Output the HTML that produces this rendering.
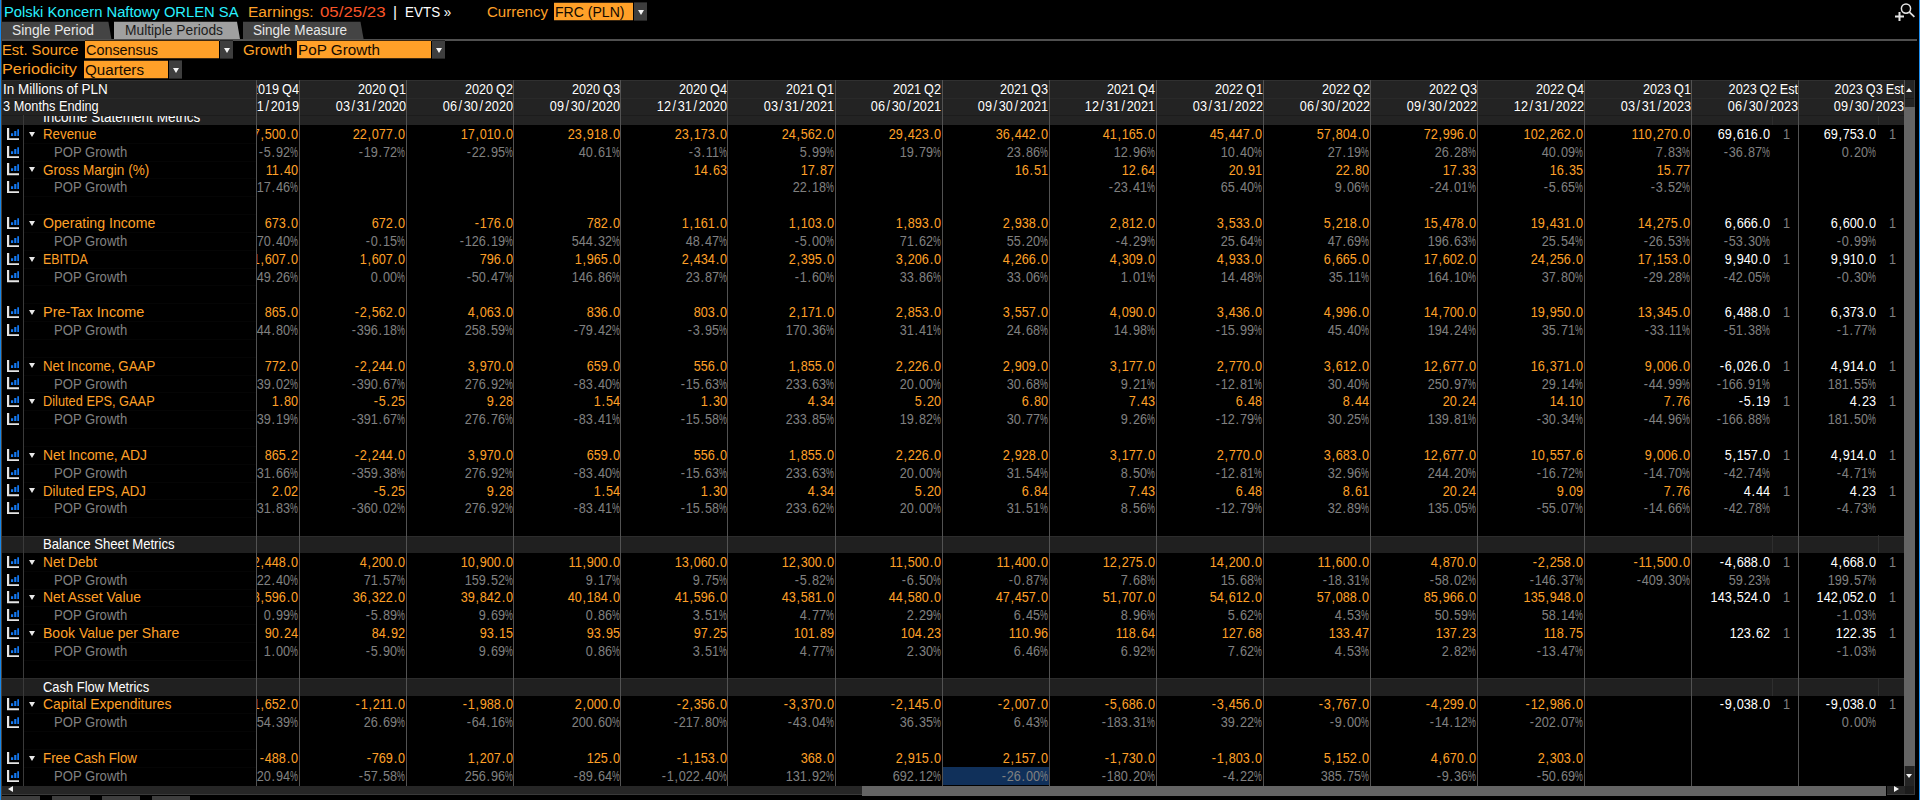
<!DOCTYPE html>
<html><head><meta charset="utf-8"><title>EEO</title>
<style>
*{box-sizing:border-box}
html,body{margin:0;padding:0;background:#000;width:1920px;height:800px;overflow:hidden}
body{font-family:"Liberation Sans",sans-serif;position:relative;color:#fff}
.a{position:absolute;white-space:pre;transform-origin:0 50%}
.t{font-size:15.5px;line-height:20px;height:20px}
.tb{font-size:14.3px;line-height:18px;height:18px;text-shadow:0 -1px 0 rgba(0,0,0,.45)}
.tab{font-size:14px;line-height:18px;height:18px}
.o{color:#ffa028}.c{color:#28f0ff}.rd{color:#fa5528}.w{color:#fff}.g{color:#808080}
.dd{background:#ffa028;border-top:1px solid #3c2810;border-bottom:1px solid #3c2810;color:#140a00;height:19px;line-height:17px;font-size:15.5px;padding-left:1px;overflow:hidden}
.dd span{display:inline-block;transform-origin:0 50%}
.ab{background:#3e3e3e;border-top:1px solid #262626;border-bottom:1px solid #262626;height:19px;width:13px}
.ab i{position:absolute;left:3.6px;top:6.6px;width:0;height:0;border-left:3.3px solid transparent;border-right:3.3px solid transparent;border-top:5.6px solid #f4f4f4}
.r{font-size:14.3px;line-height:18px;height:18px}
.v,.h1,.h2{text-align:right;width:100px;transform:scaleX(0.8865);transform-origin:100% 50%}
.v i{font-style:normal;letter-spacing:.9px;margin-left:.8px}
.h1{word-spacing:-.6px}
.h2 i{font-style:normal;letter-spacing:1.9px;margin-left:1.9px}
.vl{background:#525252;width:1px}
.pc{display:inline-block;width:9px;transform:scaleX(.7);transform-origin:0 50%}
.sec{background:#202020;left:2px;width:1903px;height:17px;border-top:1px solid #2c2c2c}
#grid{position:absolute;left:257px;top:80px;width:1648px;height:706px;overflow:hidden}
.ic{position:absolute;left:7px;width:12.2px;height:12.2px}
.tri{width:0;height:0;border-left:3.3px solid transparent;border-right:3.3px solid transparent;border-top:5.6px solid #e8e8e8}
</style></head><body>
<div class="a" style="left:0;top:0;width:1px;height:800px;background:#1487eb"></div><div class="a" style="left:1px;top:0;width:1px;height:800px;background:#4a423c"></div>
<div class="a" style="left:1919px;top:0;width:1px;height:800px;background:#2090f0"></div>
<div class="a t c" style="left:3.5px;top:1.6px;transform:scale(0.9518,1);">Polski Koncern Naftowy ORLEN SA</div>
<div class="a t o" style="left:247.5px;top:1.6px;transform:scale(1.0003,1);">Earnings:</div>
<div class="a t rd" style="left:319.5px;top:1.6px;transform:scale(1.0873,1);">05/25/23</div>
<div class="a t w" style="left:393px;top:1.6px;">|</div>
<div class="a t w" style="left:405px;top:1.6px;transform:scale(0.8669,1);">EVTS »</div>
<div class="a t o" style="left:487px;top:1.6px;transform:scale(0.9701,1);">Currency</div>
<div class="a dd" style="left:554px;top:2px;width:79px"><span style="transform:scale(0.9069,1)">FRC (PLN)</span></div><div class="a ab" style="left:634px;top:2px"><i></i></div>
<svg class="a" style="left:1892px;top:0" width="26" height="24" viewBox="0 0 26 24"><circle cx="14" cy="8.6" r="4.6" fill="none" stroke="#e4e4e4" stroke-width="1.5"/><path d="M17.4 12.2 L22.4 16.8" stroke="#e4e4e4" stroke-width="1.7" fill="none"/><path d="M3 16.5 H12 M7.5 12 V21" stroke="#e4e4e4" stroke-width="2" fill="none"/></svg>
<svg class="a" style="left:0;top:21px" width="400" height="19" viewBox="0 0 400 19"><path d="M2 0.7 L108.4 0.7 L111.4 18 L2 18 Z" fill="#444"/><path d="M114 0.7 L237 0.7 L240 18 L114 18 Z" fill="#a0a0a0"/><path d="M243 0.7 L360.5 0.7 L363.6 18 L243 18 Z" fill="#444"/></svg>
<div class="a tab" style="left:12px;top:21.4px;transform:scaleX(0.9847);color:#e8e8e8;">Single Period</div>
<div class="a tab" style="left:124.5px;top:21.4px;transform:scaleX(0.9839);color:#1c1c1c;">Multiple Periods</div>
<div class="a tab" style="left:253px;top:21.4px;transform:scaleX(0.9663);color:#e8e8e8;">Single Measure</div>
<div class="a" style="left:2px;top:39px;width:1915px;height:2px;background:#505050"></div>
<div class="a t o" style="left:2.3px;top:39.5px;transform:scale(0.9548,1);">Est. Source</div>
<div class="a dd" style="left:85px;top:40px;width:134px"><span style="transform:scale(0.9285,1)">Consensus</span></div><div class="a ab" style="left:220px;top:40px"><i></i></div>
<div class="a t o" style="left:243.3px;top:39.5px;transform:scale(0.9808,1);">Growth</div>
<div class="a dd" style="left:297px;top:40px;width:134px"><span style="transform:scale(0.9846,1)">PoP Growth</span></div><div class="a ab" style="left:432px;top:40px"><i></i></div>
<div class="a t o" style="left:2.3px;top:59.2px;transform:scale(1.0490,1);">Periodicity</div>
<div class="a dd" style="left:84px;top:60px;width:84px"><span style="transform:scale(0.9785,1)">Quarters</span></div><div class="a ab" style="left:169px;top:60px"><i></i></div>
<div class="a" style="left:2px;top:80px;width:1903px;height:45px;background:#232323"></div>
<div class="a" style="left:2px;top:80px;width:1903px;height:1px;background:#303030"></div><div class="a" style="left:2px;top:98px;width:1903px;height:1px;background:#292929"></div><div class="a" style="left:2px;top:115px;width:1903px;height:1px;background:#1c1c1c"></div>
<div class="a tb w" style="left:3px;top:80.3px;transform:scaleX(0.9419);">In Millions of PLN</div>
<div class="a tb w" style="left:3px;top:97.3px;transform:scaleX(0.8917);">3 Months Ending</div>
<div class="a" style="left:24px;top:115.5px;width:233px;height:9.5px;overflow:hidden"><div class="a r w" style="left:18.5px;top:-8px;transform:scaleX(0.9470)">Income Statement Metrics</div></div>
<div class="a sec" style="top:536px;height:17px"></div><div class="a" style="left:1772px;top:535.09px;width:1px;height:17.83px;background:#2e2e2e"></div><div class="a" style="left:1878px;top:535.09px;width:1px;height:17.83px;background:#2e2e2e"></div>
<div class="a sec" style="top:678px;height:18px"></div><div class="a" style="left:1772px;top:677.73px;width:1px;height:17.83px;background:#2e2e2e"></div><div class="a" style="left:1878px;top:677.73px;width:1px;height:17.83px;background:#2e2e2e"></div>
<div class="a" style="left:1772px;top:116px;width:1px;height:9px;background:#2e2e2e"></div><div class="a" style="left:1878px;top:116px;width:1px;height:9px;background:#2e2e2e"></div><svg class="ic" style="top:127.8px" viewBox="0 0 12.2 12.2"><path d="M0 0H2.2V10.2H12.2V12.2H0Z" fill="#e6e6e6"/><path d="M4 5.3H6.2V7.9H4ZM7.2 3.1H9.4V7.9H7.2ZM10.3 1.2H12.2V7.9H10.3Z" fill="#1478f0"/></svg>
<div class="a tri" style="left:28.9px;top:131.7px"></div>
<div class="a r o" style="left:42.7px;top:125px;transform:scaleX(0.9311);">Revenue</div>
<svg class="ic" style="top:145.63px" viewBox="0 0 12.2 12.2"><path d="M0 0H2.2V10.2H12.2V12.2H0Z" fill="#e6e6e6"/><path d="M4 5.3H6.2V7.9H4ZM7.2 3.1H9.4V7.9H7.2ZM10.3 1.2H12.2V7.9H10.3Z" fill="#1478f0"/></svg>
<div class="a r g" style="left:54.3px;top:143px;transform:scaleX(0.9162);">POP Growth</div>
<svg class="ic" style="top:163.46px" viewBox="0 0 12.2 12.2"><path d="M0 0H2.2V10.2H12.2V12.2H0Z" fill="#e6e6e6"/><path d="M4 5.3H6.2V7.9H4ZM7.2 3.1H9.4V7.9H7.2ZM10.3 1.2H12.2V7.9H10.3Z" fill="#1478f0"/></svg>
<div class="a tri" style="left:28.9px;top:167.36px"></div>
<div class="a r o" style="left:42.7px;top:161px;transform:scaleX(0.9488);">Gross Margin (%)</div>
<svg class="ic" style="top:181.29px" viewBox="0 0 12.2 12.2"><path d="M0 0H2.2V10.2H12.2V12.2H0Z" fill="#e6e6e6"/><path d="M4 5.3H6.2V7.9H4ZM7.2 3.1H9.4V7.9H7.2ZM10.3 1.2H12.2V7.9H10.3Z" fill="#1478f0"/></svg>
<div class="a r g" style="left:54.3px;top:178px;transform:scaleX(0.9162);">POP Growth</div>
<svg class="ic" style="top:216.95px" viewBox="0 0 12.2 12.2"><path d="M0 0H2.2V10.2H12.2V12.2H0Z" fill="#e6e6e6"/><path d="M4 5.3H6.2V7.9H4ZM7.2 3.1H9.4V7.9H7.2ZM10.3 1.2H12.2V7.9H10.3Z" fill="#1478f0"/></svg>
<div class="a tri" style="left:28.9px;top:220.85px"></div>
<div class="a r o" style="left:42.7px;top:214px;transform:scaleX(0.9880);">Operating Income</div>
<svg class="ic" style="top:234.78px" viewBox="0 0 12.2 12.2"><path d="M0 0H2.2V10.2H12.2V12.2H0Z" fill="#e6e6e6"/><path d="M4 5.3H6.2V7.9H4ZM7.2 3.1H9.4V7.9H7.2ZM10.3 1.2H12.2V7.9H10.3Z" fill="#1478f0"/></svg>
<div class="a r g" style="left:54.3px;top:232px;transform:scaleX(0.9162);">POP Growth</div>
<svg class="ic" style="top:252.61px" viewBox="0 0 12.2 12.2"><path d="M0 0H2.2V10.2H12.2V12.2H0Z" fill="#e6e6e6"/><path d="M4 5.3H6.2V7.9H4ZM7.2 3.1H9.4V7.9H7.2ZM10.3 1.2H12.2V7.9H10.3Z" fill="#1478f0"/></svg>
<div class="a tri" style="left:28.9px;top:256.51px"></div>
<div class="a r o" style="left:42.7px;top:250px;transform:scaleX(0.8655);">EBITDA</div>
<svg class="ic" style="top:270.44px" viewBox="0 0 12.2 12.2"><path d="M0 0H2.2V10.2H12.2V12.2H0Z" fill="#e6e6e6"/><path d="M4 5.3H6.2V7.9H4ZM7.2 3.1H9.4V7.9H7.2ZM10.3 1.2H12.2V7.9H10.3Z" fill="#1478f0"/></svg>
<div class="a r g" style="left:54.3px;top:268px;transform:scaleX(0.9162);">POP Growth</div>
<svg class="ic" style="top:306.1px" viewBox="0 0 12.2 12.2"><path d="M0 0H2.2V10.2H12.2V12.2H0Z" fill="#e6e6e6"/><path d="M4 5.3H6.2V7.9H4ZM7.2 3.1H9.4V7.9H7.2ZM10.3 1.2H12.2V7.9H10.3Z" fill="#1478f0"/></svg>
<div class="a tri" style="left:28.9px;top:310px"></div>
<div class="a r o" style="left:42.7px;top:303px;transform:scaleX(1.0116);">Pre-Tax Income</div>
<svg class="ic" style="top:323.93px" viewBox="0 0 12.2 12.2"><path d="M0 0H2.2V10.2H12.2V12.2H0Z" fill="#e6e6e6"/><path d="M4 5.3H6.2V7.9H4ZM7.2 3.1H9.4V7.9H7.2ZM10.3 1.2H12.2V7.9H10.3Z" fill="#1478f0"/></svg>
<div class="a r g" style="left:54.3px;top:321px;transform:scaleX(0.9162);">POP Growth</div>
<svg class="ic" style="top:359.59px" viewBox="0 0 12.2 12.2"><path d="M0 0H2.2V10.2H12.2V12.2H0Z" fill="#e6e6e6"/><path d="M4 5.3H6.2V7.9H4ZM7.2 3.1H9.4V7.9H7.2ZM10.3 1.2H12.2V7.9H10.3Z" fill="#1478f0"/></svg>
<div class="a tri" style="left:28.9px;top:363.49px"></div>
<div class="a r o" style="left:42.7px;top:357px;transform:scaleX(0.9296);">Net Income, GAAP</div>
<svg class="ic" style="top:377.42px" viewBox="0 0 12.2 12.2"><path d="M0 0H2.2V10.2H12.2V12.2H0Z" fill="#e6e6e6"/><path d="M4 5.3H6.2V7.9H4ZM7.2 3.1H9.4V7.9H7.2ZM10.3 1.2H12.2V7.9H10.3Z" fill="#1478f0"/></svg>
<div class="a r g" style="left:54.3px;top:375px;transform:scaleX(0.9162);">POP Growth</div>
<svg class="ic" style="top:395.25px" viewBox="0 0 12.2 12.2"><path d="M0 0H2.2V10.2H12.2V12.2H0Z" fill="#e6e6e6"/><path d="M4 5.3H6.2V7.9H4ZM7.2 3.1H9.4V7.9H7.2ZM10.3 1.2H12.2V7.9H10.3Z" fill="#1478f0"/></svg>
<div class="a tri" style="left:28.9px;top:399.15px"></div>
<div class="a r o" style="left:42.7px;top:392px;transform:scaleX(0.8951);">Diluted EPS, GAAP</div>
<svg class="ic" style="top:413.08px" viewBox="0 0 12.2 12.2"><path d="M0 0H2.2V10.2H12.2V12.2H0Z" fill="#e6e6e6"/><path d="M4 5.3H6.2V7.9H4ZM7.2 3.1H9.4V7.9H7.2ZM10.3 1.2H12.2V7.9H10.3Z" fill="#1478f0"/></svg>
<div class="a r g" style="left:54.3px;top:410px;transform:scaleX(0.9162);">POP Growth</div>
<svg class="ic" style="top:448.74px" viewBox="0 0 12.2 12.2"><path d="M0 0H2.2V10.2H12.2V12.2H0Z" fill="#e6e6e6"/><path d="M4 5.3H6.2V7.9H4ZM7.2 3.1H9.4V7.9H7.2ZM10.3 1.2H12.2V7.9H10.3Z" fill="#1478f0"/></svg>
<div class="a tri" style="left:28.9px;top:452.64px"></div>
<div class="a r o" style="left:42.7px;top:446px;transform:scaleX(0.9693);">Net Income, ADJ</div>
<svg class="ic" style="top:466.57px" viewBox="0 0 12.2 12.2"><path d="M0 0H2.2V10.2H12.2V12.2H0Z" fill="#e6e6e6"/><path d="M4 5.3H6.2V7.9H4ZM7.2 3.1H9.4V7.9H7.2ZM10.3 1.2H12.2V7.9H10.3Z" fill="#1478f0"/></svg>
<div class="a r g" style="left:54.3px;top:464px;transform:scaleX(0.9162);">POP Growth</div>
<svg class="ic" style="top:484.4px" viewBox="0 0 12.2 12.2"><path d="M0 0H2.2V10.2H12.2V12.2H0Z" fill="#e6e6e6"/><path d="M4 5.3H6.2V7.9H4ZM7.2 3.1H9.4V7.9H7.2ZM10.3 1.2H12.2V7.9H10.3Z" fill="#1478f0"/></svg>
<div class="a tri" style="left:28.9px;top:488.3px"></div>
<div class="a r o" style="left:42.7px;top:482px;transform:scaleX(0.9257);">Diluted EPS, ADJ</div>
<svg class="ic" style="top:502.23px" viewBox="0 0 12.2 12.2"><path d="M0 0H2.2V10.2H12.2V12.2H0Z" fill="#e6e6e6"/><path d="M4 5.3H6.2V7.9H4ZM7.2 3.1H9.4V7.9H7.2ZM10.3 1.2H12.2V7.9H10.3Z" fill="#1478f0"/></svg>
<div class="a r g" style="left:54.3px;top:499px;transform:scaleX(0.9162);">POP Growth</div>
<div class="a r w" style="left:42.7px;top:535px;transform:scaleX(0.9198);">Balance Sheet Metrics</div>
<svg class="ic" style="top:555.72px" viewBox="0 0 12.2 12.2"><path d="M0 0H2.2V10.2H12.2V12.2H0Z" fill="#e6e6e6"/><path d="M4 5.3H6.2V7.9H4ZM7.2 3.1H9.4V7.9H7.2ZM10.3 1.2H12.2V7.9H10.3Z" fill="#1478f0"/></svg>
<div class="a tri" style="left:28.9px;top:559.62px"></div>
<div class="a r o" style="left:42.7px;top:553px;transform:scaleX(0.9569);">Net Debt</div>
<svg class="ic" style="top:573.55px" viewBox="0 0 12.2 12.2"><path d="M0 0H2.2V10.2H12.2V12.2H0Z" fill="#e6e6e6"/><path d="M4 5.3H6.2V7.9H4ZM7.2 3.1H9.4V7.9H7.2ZM10.3 1.2H12.2V7.9H10.3Z" fill="#1478f0"/></svg>
<div class="a r g" style="left:54.3px;top:571px;transform:scaleX(0.9162);">POP Growth</div>
<svg class="ic" style="top:591.38px" viewBox="0 0 12.2 12.2"><path d="M0 0H2.2V10.2H12.2V12.2H0Z" fill="#e6e6e6"/><path d="M4 5.3H6.2V7.9H4ZM7.2 3.1H9.4V7.9H7.2ZM10.3 1.2H12.2V7.9H10.3Z" fill="#1478f0"/></svg>
<div class="a tri" style="left:28.9px;top:595.28px"></div>
<div class="a r o" style="left:42.7px;top:588px;transform:scaleX(0.9733);">Net Asset Value</div>
<svg class="ic" style="top:609.21px" viewBox="0 0 12.2 12.2"><path d="M0 0H2.2V10.2H12.2V12.2H0Z" fill="#e6e6e6"/><path d="M4 5.3H6.2V7.9H4ZM7.2 3.1H9.4V7.9H7.2ZM10.3 1.2H12.2V7.9H10.3Z" fill="#1478f0"/></svg>
<div class="a r g" style="left:54.3px;top:606px;transform:scaleX(0.9162);">POP Growth</div>
<svg class="ic" style="top:627.04px" viewBox="0 0 12.2 12.2"><path d="M0 0H2.2V10.2H12.2V12.2H0Z" fill="#e6e6e6"/><path d="M4 5.3H6.2V7.9H4ZM7.2 3.1H9.4V7.9H7.2ZM10.3 1.2H12.2V7.9H10.3Z" fill="#1478f0"/></svg>
<div class="a tri" style="left:28.9px;top:630.94px"></div>
<div class="a r o" style="left:42.7px;top:624px;transform:scaleX(0.9816);">Book Value per Share</div>
<svg class="ic" style="top:644.87px" viewBox="0 0 12.2 12.2"><path d="M0 0H2.2V10.2H12.2V12.2H0Z" fill="#e6e6e6"/><path d="M4 5.3H6.2V7.9H4ZM7.2 3.1H9.4V7.9H7.2ZM10.3 1.2H12.2V7.9H10.3Z" fill="#1478f0"/></svg>
<div class="a r g" style="left:54.3px;top:642px;transform:scaleX(0.9162);">POP Growth</div>
<div class="a r w" style="left:42.7px;top:678px;transform:scaleX(0.9039);">Cash Flow Metrics</div>
<svg class="ic" style="top:698.36px" viewBox="0 0 12.2 12.2"><path d="M0 0H2.2V10.2H12.2V12.2H0Z" fill="#e6e6e6"/><path d="M4 5.3H6.2V7.9H4ZM7.2 3.1H9.4V7.9H7.2ZM10.3 1.2H12.2V7.9H10.3Z" fill="#1478f0"/></svg>
<div class="a tri" style="left:28.9px;top:702.26px"></div>
<div class="a r o" style="left:42.7px;top:695px;transform:scaleX(0.9746);">Capital Expenditures</div>
<svg class="ic" style="top:716.19px" viewBox="0 0 12.2 12.2"><path d="M0 0H2.2V10.2H12.2V12.2H0Z" fill="#e6e6e6"/><path d="M4 5.3H6.2V7.9H4ZM7.2 3.1H9.4V7.9H7.2ZM10.3 1.2H12.2V7.9H10.3Z" fill="#1478f0"/></svg>
<div class="a r g" style="left:54.3px;top:713px;transform:scaleX(0.9162);">POP Growth</div>
<svg class="ic" style="top:751.85px" viewBox="0 0 12.2 12.2"><path d="M0 0H2.2V10.2H12.2V12.2H0Z" fill="#e6e6e6"/><path d="M4 5.3H6.2V7.9H4ZM7.2 3.1H9.4V7.9H7.2ZM10.3 1.2H12.2V7.9H10.3Z" fill="#1478f0"/></svg>
<div class="a tri" style="left:28.9px;top:755.75px"></div>
<div class="a r o" style="left:42.7px;top:749px;transform:scaleX(0.9314);">Free Cash Flow</div>
<svg class="ic" style="top:769.68px" viewBox="0 0 12.2 12.2"><path d="M0 0H2.2V10.2H12.2V12.2H0Z" fill="#e6e6e6"/><path d="M4 5.3H6.2V7.9H4ZM7.2 3.1H9.4V7.9H7.2ZM10.3 1.2H12.2V7.9H10.3Z" fill="#1478f0"/></svg>
<div class="a r g" style="left:54.3px;top:767px;transform:scaleX(0.9162);">POP Growth</div>
<div class="a" style="left:24px;top:143px;width:232px;height:1px;background:#050505"></div><div class="a" style="left:24px;top:161px;width:232px;height:1px;background:#050505"></div><div class="a" style="left:24px;top:178px;width:232px;height:1px;background:#050505"></div><div class="a" style="left:24px;top:196px;width:232px;height:1px;background:#050505"></div><div class="a" style="left:24px;top:214px;width:232px;height:1px;background:#050505"></div><div class="a" style="left:24px;top:232px;width:232px;height:1px;background:#050505"></div><div class="a" style="left:24px;top:250px;width:232px;height:1px;background:#050505"></div><div class="a" style="left:24px;top:268px;width:232px;height:1px;background:#050505"></div><div class="a" style="left:24px;top:285px;width:232px;height:1px;background:#050505"></div><div class="a" style="left:24px;top:303px;width:232px;height:1px;background:#050505"></div><div class="a" style="left:24px;top:321px;width:232px;height:1px;background:#050505"></div><div class="a" style="left:24px;top:339px;width:232px;height:1px;background:#050505"></div><div class="a" style="left:24px;top:357px;width:232px;height:1px;background:#050505"></div><div class="a" style="left:24px;top:375px;width:232px;height:1px;background:#050505"></div><div class="a" style="left:24px;top:392px;width:232px;height:1px;background:#050505"></div><div class="a" style="left:24px;top:410px;width:232px;height:1px;background:#050505"></div><div class="a" style="left:24px;top:428px;width:232px;height:1px;background:#050505"></div><div class="a" style="left:24px;top:446px;width:232px;height:1px;background:#050505"></div><div class="a" style="left:24px;top:464px;width:232px;height:1px;background:#050505"></div><div class="a" style="left:24px;top:482px;width:232px;height:1px;background:#050505"></div><div class="a" style="left:24px;top:499px;width:232px;height:1px;background:#050505"></div><div class="a" style="left:24px;top:517px;width:232px;height:1px;background:#050505"></div><div class="a" style="left:24px;top:571px;width:232px;height:1px;background:#050505"></div><div class="a" style="left:24px;top:589px;width:232px;height:1px;background:#050505"></div><div class="a" style="left:24px;top:606px;width:232px;height:1px;background:#050505"></div><div class="a" style="left:24px;top:624px;width:232px;height:1px;background:#050505"></div><div class="a" style="left:24px;top:642px;width:232px;height:1px;background:#050505"></div><div class="a" style="left:24px;top:660px;width:232px;height:1px;background:#050505"></div><div class="a" style="left:24px;top:713px;width:232px;height:1px;background:#050505"></div><div class="a" style="left:24px;top:731px;width:232px;height:1px;background:#050505"></div><div class="a" style="left:24px;top:749px;width:232px;height:1px;background:#050505"></div><div class="a" style="left:24px;top:767px;width:232px;height:1px;background:#050505"></div>
<div class="a vl" style="left:23px;top:115px;height:671px;background:#3a3a3a"></div>
<div id="grid">
<div class="a tb w h1" style="left:-58.1px;top:0.3px">2019 Q4</div><div class="a tb w h2" style="left:-58.1px;top:17.3px">12<i>/</i>31<i>/</i>2019</div>
<div class="a r o v" style="left:-58.6px;top:45px">27<i>,</i>500<i>.</i>0</div><div class="a r g v" style="left:-58.6px;top:63px"><i>-</i>5<i>.</i>92<span class="pc">%</span></div><div class="a r o v" style="left:-58.6px;top:81px">11<i>.</i>40</div><div class="a r g v" style="left:-58.6px;top:98px"><i>-</i>17<i>.</i>46<span class="pc">%</span></div><div class="a r o v" style="left:-58.6px;top:134px">673<i>.</i>0</div><div class="a r g v" style="left:-58.6px;top:152px"><i>-</i>70<i>.</i>40<span class="pc">%</span></div><div class="a r o v" style="left:-58.6px;top:170px">1<i>,</i>607<i>.</i>0</div><div class="a r g v" style="left:-58.6px;top:188px"><i>-</i>49<i>.</i>26<span class="pc">%</span></div><div class="a r o v" style="left:-58.6px;top:223px">865<i>.</i>0</div><div class="a r g v" style="left:-58.6px;top:241px"><i>-</i>44<i>.</i>80<span class="pc">%</span></div><div class="a r o v" style="left:-58.6px;top:277px">772<i>.</i>0</div><div class="a r g v" style="left:-58.6px;top:295px"><i>-</i>39<i>.</i>02<span class="pc">%</span></div><div class="a r o v" style="left:-58.6px;top:312px">1<i>.</i>80</div><div class="a r g v" style="left:-58.6px;top:330px"><i>-</i>39<i>.</i>19<span class="pc">%</span></div><div class="a r o v" style="left:-58.6px;top:366px">865<i>.</i>2</div><div class="a r g v" style="left:-58.6px;top:384px"><i>-</i>31<i>.</i>66<span class="pc">%</span></div><div class="a r o v" style="left:-58.6px;top:402px">2<i>.</i>02</div><div class="a r g v" style="left:-58.6px;top:419px"><i>-</i>31<i>.</i>83<span class="pc">%</span></div><div class="a r o v" style="left:-58.6px;top:473px">2<i>,</i>448<i>.</i>0</div><div class="a r g v" style="left:-58.6px;top:491px"><i>-</i>22<i>.</i>40<span class="pc">%</span></div><div class="a r o v" style="left:-58.6px;top:508px">38<i>,</i>596<i>.</i>0</div><div class="a r g v" style="left:-58.6px;top:526px">0<i>.</i>99<span class="pc">%</span></div><div class="a r o v" style="left:-58.6px;top:544px">90<i>.</i>24</div><div class="a r g v" style="left:-58.6px;top:562px">1<i>.</i>00<span class="pc">%</span></div><div class="a r o v" style="left:-58.6px;top:615px"><i>-</i>1<i>,</i>652<i>.</i>0</div><div class="a r g v" style="left:-58.6px;top:633px"><i>-</i>54<i>.</i>39<span class="pc">%</span></div><div class="a r o v" style="left:-58.6px;top:669px"><i>-</i>488<i>.</i>0</div><div class="a r g v" style="left:-58.6px;top:687px"><i>-</i>20<i>.</i>94<span class="pc">%</span></div>
<div class="a tb w h1" style="left:48.97px;top:0.3px">2020 Q1</div><div class="a tb w h2" style="left:48.97px;top:17.3px">03<i>/</i>31<i>/</i>2020</div>
<div class="a r o v" style="left:48.47px;top:45px">22<i>,</i>077<i>.</i>0</div><div class="a r g v" style="left:48.47px;top:63px"><i>-</i>19<i>.</i>72<span class="pc">%</span></div><div class="a r o v" style="left:48.47px;top:134px">672<i>.</i>0</div><div class="a r g v" style="left:48.47px;top:152px"><i>-</i>0<i>.</i>15<span class="pc">%</span></div><div class="a r o v" style="left:48.47px;top:170px">1<i>,</i>607<i>.</i>0</div><div class="a r g v" style="left:48.47px;top:188px">0<i>.</i>00<span class="pc">%</span></div><div class="a r o v" style="left:48.47px;top:223px"><i>-</i>2<i>,</i>562<i>.</i>0</div><div class="a r g v" style="left:48.47px;top:241px"><i>-</i>396<i>.</i>18<span class="pc">%</span></div><div class="a r o v" style="left:48.47px;top:277px"><i>-</i>2<i>,</i>244<i>.</i>0</div><div class="a r g v" style="left:48.47px;top:295px"><i>-</i>390<i>.</i>67<span class="pc">%</span></div><div class="a r o v" style="left:48.47px;top:312px"><i>-</i>5<i>.</i>25</div><div class="a r g v" style="left:48.47px;top:330px"><i>-</i>391<i>.</i>67<span class="pc">%</span></div><div class="a r o v" style="left:48.47px;top:366px"><i>-</i>2<i>,</i>244<i>.</i>0</div><div class="a r g v" style="left:48.47px;top:384px"><i>-</i>359<i>.</i>38<span class="pc">%</span></div><div class="a r o v" style="left:48.47px;top:402px"><i>-</i>5<i>.</i>25</div><div class="a r g v" style="left:48.47px;top:419px"><i>-</i>360<i>.</i>02<span class="pc">%</span></div><div class="a r o v" style="left:48.47px;top:473px">4<i>,</i>200<i>.</i>0</div><div class="a r g v" style="left:48.47px;top:491px">71<i>.</i>57<span class="pc">%</span></div><div class="a r o v" style="left:48.47px;top:508px">36<i>,</i>322<i>.</i>0</div><div class="a r g v" style="left:48.47px;top:526px"><i>-</i>5<i>.</i>89<span class="pc">%</span></div><div class="a r o v" style="left:48.47px;top:544px">84<i>.</i>92</div><div class="a r g v" style="left:48.47px;top:562px"><i>-</i>5<i>.</i>90<span class="pc">%</span></div><div class="a r o v" style="left:48.47px;top:615px"><i>-</i>1<i>,</i>211<i>.</i>0</div><div class="a r g v" style="left:48.47px;top:633px">26<i>.</i>69<span class="pc">%</span></div><div class="a r o v" style="left:48.47px;top:669px"><i>-</i>769<i>.</i>0</div><div class="a r g v" style="left:48.47px;top:687px"><i>-</i>57<i>.</i>58<span class="pc">%</span></div>
<div class="a tb w h1" style="left:156.04px;top:0.3px">2020 Q2</div><div class="a tb w h2" style="left:156.04px;top:17.3px">06<i>/</i>30<i>/</i>2020</div>
<div class="a r o v" style="left:155.54px;top:45px">17<i>,</i>010<i>.</i>0</div><div class="a r g v" style="left:155.54px;top:63px"><i>-</i>22<i>.</i>95<span class="pc">%</span></div><div class="a r o v" style="left:155.54px;top:134px"><i>-</i>176<i>.</i>0</div><div class="a r g v" style="left:155.54px;top:152px"><i>-</i>126<i>.</i>19<span class="pc">%</span></div><div class="a r o v" style="left:155.54px;top:170px">796<i>.</i>0</div><div class="a r g v" style="left:155.54px;top:188px"><i>-</i>50<i>.</i>47<span class="pc">%</span></div><div class="a r o v" style="left:155.54px;top:223px">4<i>,</i>063<i>.</i>0</div><div class="a r g v" style="left:155.54px;top:241px">258<i>.</i>59<span class="pc">%</span></div><div class="a r o v" style="left:155.54px;top:277px">3<i>,</i>970<i>.</i>0</div><div class="a r g v" style="left:155.54px;top:295px">276<i>.</i>92<span class="pc">%</span></div><div class="a r o v" style="left:155.54px;top:312px">9<i>.</i>28</div><div class="a r g v" style="left:155.54px;top:330px">276<i>.</i>76<span class="pc">%</span></div><div class="a r o v" style="left:155.54px;top:366px">3<i>,</i>970<i>.</i>0</div><div class="a r g v" style="left:155.54px;top:384px">276<i>.</i>92<span class="pc">%</span></div><div class="a r o v" style="left:155.54px;top:402px">9<i>.</i>28</div><div class="a r g v" style="left:155.54px;top:419px">276<i>.</i>92<span class="pc">%</span></div><div class="a r o v" style="left:155.54px;top:473px">10<i>,</i>900<i>.</i>0</div><div class="a r g v" style="left:155.54px;top:491px">159<i>.</i>52<span class="pc">%</span></div><div class="a r o v" style="left:155.54px;top:508px">39<i>,</i>842<i>.</i>0</div><div class="a r g v" style="left:155.54px;top:526px">9<i>.</i>69<span class="pc">%</span></div><div class="a r o v" style="left:155.54px;top:544px">93<i>.</i>15</div><div class="a r g v" style="left:155.54px;top:562px">9<i>.</i>69<span class="pc">%</span></div><div class="a r o v" style="left:155.54px;top:615px"><i>-</i>1<i>,</i>988<i>.</i>0</div><div class="a r g v" style="left:155.54px;top:633px"><i>-</i>64<i>.</i>16<span class="pc">%</span></div><div class="a r o v" style="left:155.54px;top:669px">1<i>,</i>207<i>.</i>0</div><div class="a r g v" style="left:155.54px;top:687px">256<i>.</i>96<span class="pc">%</span></div>
<div class="a tb w h1" style="left:263.11px;top:0.3px">2020 Q3</div><div class="a tb w h2" style="left:263.11px;top:17.3px">09<i>/</i>30<i>/</i>2020</div>
<div class="a r o v" style="left:262.61px;top:45px">23<i>,</i>918<i>.</i>0</div><div class="a r g v" style="left:262.61px;top:63px">40<i>.</i>61<span class="pc">%</span></div><div class="a r o v" style="left:262.61px;top:134px">782<i>.</i>0</div><div class="a r g v" style="left:262.61px;top:152px">544<i>.</i>32<span class="pc">%</span></div><div class="a r o v" style="left:262.61px;top:170px">1<i>,</i>965<i>.</i>0</div><div class="a r g v" style="left:262.61px;top:188px">146<i>.</i>86<span class="pc">%</span></div><div class="a r o v" style="left:262.61px;top:223px">836<i>.</i>0</div><div class="a r g v" style="left:262.61px;top:241px"><i>-</i>79<i>.</i>42<span class="pc">%</span></div><div class="a r o v" style="left:262.61px;top:277px">659<i>.</i>0</div><div class="a r g v" style="left:262.61px;top:295px"><i>-</i>83<i>.</i>40<span class="pc">%</span></div><div class="a r o v" style="left:262.61px;top:312px">1<i>.</i>54</div><div class="a r g v" style="left:262.61px;top:330px"><i>-</i>83<i>.</i>41<span class="pc">%</span></div><div class="a r o v" style="left:262.61px;top:366px">659<i>.</i>0</div><div class="a r g v" style="left:262.61px;top:384px"><i>-</i>83<i>.</i>40<span class="pc">%</span></div><div class="a r o v" style="left:262.61px;top:402px">1<i>.</i>54</div><div class="a r g v" style="left:262.61px;top:419px"><i>-</i>83<i>.</i>41<span class="pc">%</span></div><div class="a r o v" style="left:262.61px;top:473px">11<i>,</i>900<i>.</i>0</div><div class="a r g v" style="left:262.61px;top:491px">9<i>.</i>17<span class="pc">%</span></div><div class="a r o v" style="left:262.61px;top:508px">40<i>,</i>184<i>.</i>0</div><div class="a r g v" style="left:262.61px;top:526px">0<i>.</i>86<span class="pc">%</span></div><div class="a r o v" style="left:262.61px;top:544px">93<i>.</i>95</div><div class="a r g v" style="left:262.61px;top:562px">0<i>.</i>86<span class="pc">%</span></div><div class="a r o v" style="left:262.61px;top:615px">2<i>,</i>000<i>.</i>0</div><div class="a r g v" style="left:262.61px;top:633px">200<i>.</i>60<span class="pc">%</span></div><div class="a r o v" style="left:262.61px;top:669px">125<i>.</i>0</div><div class="a r g v" style="left:262.61px;top:687px"><i>-</i>89<i>.</i>64<span class="pc">%</span></div>
<div class="a tb w h1" style="left:370.18px;top:0.3px">2020 Q4</div><div class="a tb w h2" style="left:370.18px;top:17.3px">12<i>/</i>31<i>/</i>2020</div>
<div class="a r o v" style="left:369.68px;top:45px">23<i>,</i>173<i>.</i>0</div><div class="a r g v" style="left:369.68px;top:63px"><i>-</i>3<i>.</i>11<span class="pc">%</span></div><div class="a r o v" style="left:369.68px;top:81px">14<i>.</i>63</div><div class="a r o v" style="left:369.68px;top:134px">1<i>,</i>161<i>.</i>0</div><div class="a r g v" style="left:369.68px;top:152px">48<i>.</i>47<span class="pc">%</span></div><div class="a r o v" style="left:369.68px;top:170px">2<i>,</i>434<i>.</i>0</div><div class="a r g v" style="left:369.68px;top:188px">23<i>.</i>87<span class="pc">%</span></div><div class="a r o v" style="left:369.68px;top:223px">803<i>.</i>0</div><div class="a r g v" style="left:369.68px;top:241px"><i>-</i>3<i>.</i>95<span class="pc">%</span></div><div class="a r o v" style="left:369.68px;top:277px">556<i>.</i>0</div><div class="a r g v" style="left:369.68px;top:295px"><i>-</i>15<i>.</i>63<span class="pc">%</span></div><div class="a r o v" style="left:369.68px;top:312px">1<i>.</i>30</div><div class="a r g v" style="left:369.68px;top:330px"><i>-</i>15<i>.</i>58<span class="pc">%</span></div><div class="a r o v" style="left:369.68px;top:366px">556<i>.</i>0</div><div class="a r g v" style="left:369.68px;top:384px"><i>-</i>15<i>.</i>63<span class="pc">%</span></div><div class="a r o v" style="left:369.68px;top:402px">1<i>.</i>30</div><div class="a r g v" style="left:369.68px;top:419px"><i>-</i>15<i>.</i>58<span class="pc">%</span></div><div class="a r o v" style="left:369.68px;top:473px">13<i>,</i>060<i>.</i>0</div><div class="a r g v" style="left:369.68px;top:491px">9<i>.</i>75<span class="pc">%</span></div><div class="a r o v" style="left:369.68px;top:508px">41<i>,</i>596<i>.</i>0</div><div class="a r g v" style="left:369.68px;top:526px">3<i>.</i>51<span class="pc">%</span></div><div class="a r o v" style="left:369.68px;top:544px">97<i>.</i>25</div><div class="a r g v" style="left:369.68px;top:562px">3<i>.</i>51<span class="pc">%</span></div><div class="a r o v" style="left:369.68px;top:615px"><i>-</i>2<i>,</i>356<i>.</i>0</div><div class="a r g v" style="left:369.68px;top:633px"><i>-</i>217<i>.</i>80<span class="pc">%</span></div><div class="a r o v" style="left:369.68px;top:669px"><i>-</i>1<i>,</i>153<i>.</i>0</div><div class="a r g v" style="left:369.68px;top:687px"><i>-</i>1<i>,</i>022<i>.</i>40<span class="pc">%</span></div>
<div class="a tb w h1" style="left:477.25px;top:0.3px">2021 Q1</div><div class="a tb w h2" style="left:477.25px;top:17.3px">03<i>/</i>31<i>/</i>2021</div>
<div class="a r o v" style="left:476.75px;top:45px">24<i>,</i>562<i>.</i>0</div><div class="a r g v" style="left:476.75px;top:63px">5<i>.</i>99<span class="pc">%</span></div><div class="a r o v" style="left:476.75px;top:81px">17<i>.</i>87</div><div class="a r g v" style="left:476.75px;top:98px">22<i>.</i>18<span class="pc">%</span></div><div class="a r o v" style="left:476.75px;top:134px">1<i>,</i>103<i>.</i>0</div><div class="a r g v" style="left:476.75px;top:152px"><i>-</i>5<i>.</i>00<span class="pc">%</span></div><div class="a r o v" style="left:476.75px;top:170px">2<i>,</i>395<i>.</i>0</div><div class="a r g v" style="left:476.75px;top:188px"><i>-</i>1<i>.</i>60<span class="pc">%</span></div><div class="a r o v" style="left:476.75px;top:223px">2<i>,</i>171<i>.</i>0</div><div class="a r g v" style="left:476.75px;top:241px">170<i>.</i>36<span class="pc">%</span></div><div class="a r o v" style="left:476.75px;top:277px">1<i>,</i>855<i>.</i>0</div><div class="a r g v" style="left:476.75px;top:295px">233<i>.</i>63<span class="pc">%</span></div><div class="a r o v" style="left:476.75px;top:312px">4<i>.</i>34</div><div class="a r g v" style="left:476.75px;top:330px">233<i>.</i>85<span class="pc">%</span></div><div class="a r o v" style="left:476.75px;top:366px">1<i>,</i>855<i>.</i>0</div><div class="a r g v" style="left:476.75px;top:384px">233<i>.</i>63<span class="pc">%</span></div><div class="a r o v" style="left:476.75px;top:402px">4<i>.</i>34</div><div class="a r g v" style="left:476.75px;top:419px">233<i>.</i>62<span class="pc">%</span></div><div class="a r o v" style="left:476.75px;top:473px">12<i>,</i>300<i>.</i>0</div><div class="a r g v" style="left:476.75px;top:491px"><i>-</i>5<i>.</i>82<span class="pc">%</span></div><div class="a r o v" style="left:476.75px;top:508px">43<i>,</i>581<i>.</i>0</div><div class="a r g v" style="left:476.75px;top:526px">4<i>.</i>77<span class="pc">%</span></div><div class="a r o v" style="left:476.75px;top:544px">101<i>.</i>89</div><div class="a r g v" style="left:476.75px;top:562px">4<i>.</i>77<span class="pc">%</span></div><div class="a r o v" style="left:476.75px;top:615px"><i>-</i>3<i>,</i>370<i>.</i>0</div><div class="a r g v" style="left:476.75px;top:633px"><i>-</i>43<i>.</i>04<span class="pc">%</span></div><div class="a r o v" style="left:476.75px;top:669px">368<i>.</i>0</div><div class="a r g v" style="left:476.75px;top:687px">131<i>.</i>92<span class="pc">%</span></div>
<div class="a tb w h1" style="left:584.32px;top:0.3px">2021 Q2</div><div class="a tb w h2" style="left:584.32px;top:17.3px">06<i>/</i>30<i>/</i>2021</div>
<div class="a r o v" style="left:583.82px;top:45px">29<i>,</i>423<i>.</i>0</div><div class="a r g v" style="left:583.82px;top:63px">19<i>.</i>79<span class="pc">%</span></div><div class="a r o v" style="left:583.82px;top:134px">1<i>,</i>893<i>.</i>0</div><div class="a r g v" style="left:583.82px;top:152px">71<i>.</i>62<span class="pc">%</span></div><div class="a r o v" style="left:583.82px;top:170px">3<i>,</i>206<i>.</i>0</div><div class="a r g v" style="left:583.82px;top:188px">33<i>.</i>86<span class="pc">%</span></div><div class="a r o v" style="left:583.82px;top:223px">2<i>,</i>853<i>.</i>0</div><div class="a r g v" style="left:583.82px;top:241px">31<i>.</i>41<span class="pc">%</span></div><div class="a r o v" style="left:583.82px;top:277px">2<i>,</i>226<i>.</i>0</div><div class="a r g v" style="left:583.82px;top:295px">20<i>.</i>00<span class="pc">%</span></div><div class="a r o v" style="left:583.82px;top:312px">5<i>.</i>20</div><div class="a r g v" style="left:583.82px;top:330px">19<i>.</i>82<span class="pc">%</span></div><div class="a r o v" style="left:583.82px;top:366px">2<i>,</i>226<i>.</i>0</div><div class="a r g v" style="left:583.82px;top:384px">20<i>.</i>00<span class="pc">%</span></div><div class="a r o v" style="left:583.82px;top:402px">5<i>.</i>20</div><div class="a r g v" style="left:583.82px;top:419px">20<i>.</i>00<span class="pc">%</span></div><div class="a r o v" style="left:583.82px;top:473px">11<i>,</i>500<i>.</i>0</div><div class="a r g v" style="left:583.82px;top:491px"><i>-</i>6<i>.</i>50<span class="pc">%</span></div><div class="a r o v" style="left:583.82px;top:508px">44<i>,</i>580<i>.</i>0</div><div class="a r g v" style="left:583.82px;top:526px">2<i>.</i>29<span class="pc">%</span></div><div class="a r o v" style="left:583.82px;top:544px">104<i>.</i>23</div><div class="a r g v" style="left:583.82px;top:562px">2<i>.</i>30<span class="pc">%</span></div><div class="a r o v" style="left:583.82px;top:615px"><i>-</i>2<i>,</i>145<i>.</i>0</div><div class="a r g v" style="left:583.82px;top:633px">36<i>.</i>35<span class="pc">%</span></div><div class="a r o v" style="left:583.82px;top:669px">2<i>,</i>915<i>.</i>0</div><div class="a r g v" style="left:583.82px;top:687px">692<i>.</i>12<span class="pc">%</span></div>
<div class="a tb w h1" style="left:691.39px;top:0.3px">2021 Q3</div><div class="a tb w h2" style="left:691.39px;top:17.3px">09<i>/</i>30<i>/</i>2021</div>
<div class="a r o v" style="left:690.89px;top:45px">36<i>,</i>442<i>.</i>0</div><div class="a r g v" style="left:690.89px;top:63px">23<i>.</i>86<span class="pc">%</span></div><div class="a r o v" style="left:690.89px;top:81px">16<i>.</i>51</div><div class="a r o v" style="left:690.89px;top:134px">2<i>,</i>938<i>.</i>0</div><div class="a r g v" style="left:690.89px;top:152px">55<i>.</i>20<span class="pc">%</span></div><div class="a r o v" style="left:690.89px;top:170px">4<i>,</i>266<i>.</i>0</div><div class="a r g v" style="left:690.89px;top:188px">33<i>.</i>06<span class="pc">%</span></div><div class="a r o v" style="left:690.89px;top:223px">3<i>,</i>557<i>.</i>0</div><div class="a r g v" style="left:690.89px;top:241px">24<i>.</i>68<span class="pc">%</span></div><div class="a r o v" style="left:690.89px;top:277px">2<i>,</i>909<i>.</i>0</div><div class="a r g v" style="left:690.89px;top:295px">30<i>.</i>68<span class="pc">%</span></div><div class="a r o v" style="left:690.89px;top:312px">6<i>.</i>80</div><div class="a r g v" style="left:690.89px;top:330px">30<i>.</i>77<span class="pc">%</span></div><div class="a r o v" style="left:690.89px;top:366px">2<i>,</i>928<i>.</i>0</div><div class="a r g v" style="left:690.89px;top:384px">31<i>.</i>54<span class="pc">%</span></div><div class="a r o v" style="left:690.89px;top:402px">6<i>.</i>84</div><div class="a r g v" style="left:690.89px;top:419px">31<i>.</i>51<span class="pc">%</span></div><div class="a r o v" style="left:690.89px;top:473px">11<i>,</i>400<i>.</i>0</div><div class="a r g v" style="left:690.89px;top:491px"><i>-</i>0<i>.</i>87<span class="pc">%</span></div><div class="a r o v" style="left:690.89px;top:508px">47<i>,</i>457<i>.</i>0</div><div class="a r g v" style="left:690.89px;top:526px">6<i>.</i>45<span class="pc">%</span></div><div class="a r o v" style="left:690.89px;top:544px">110<i>.</i>96</div><div class="a r g v" style="left:690.89px;top:562px">6<i>.</i>46<span class="pc">%</span></div><div class="a r o v" style="left:690.89px;top:615px"><i>-</i>2<i>,</i>007<i>.</i>0</div><div class="a r g v" style="left:690.89px;top:633px">6<i>.</i>43<span class="pc">%</span></div><div class="a r o v" style="left:690.89px;top:669px">2<i>,</i>157<i>.</i>0</div><div class="a" style="left:686.12px;top:687.4px;width:106.07px;height:17.6px;background:#10305a"></div><div class="a r g v" style="left:690.89px;top:687px"><i>-</i>26<i>.</i>00<span class="pc">%</span></div>
<div class="a tb w h1" style="left:798.46px;top:0.3px">2021 Q4</div><div class="a tb w h2" style="left:798.46px;top:17.3px">12<i>/</i>31<i>/</i>2021</div>
<div class="a r o v" style="left:797.96px;top:45px">41<i>,</i>165<i>.</i>0</div><div class="a r g v" style="left:797.96px;top:63px">12<i>.</i>96<span class="pc">%</span></div><div class="a r o v" style="left:797.96px;top:81px">12<i>.</i>64</div><div class="a r g v" style="left:797.96px;top:98px"><i>-</i>23<i>.</i>41<span class="pc">%</span></div><div class="a r o v" style="left:797.96px;top:134px">2<i>,</i>812<i>.</i>0</div><div class="a r g v" style="left:797.96px;top:152px"><i>-</i>4<i>.</i>29<span class="pc">%</span></div><div class="a r o v" style="left:797.96px;top:170px">4<i>,</i>309<i>.</i>0</div><div class="a r g v" style="left:797.96px;top:188px">1<i>.</i>01<span class="pc">%</span></div><div class="a r o v" style="left:797.96px;top:223px">4<i>,</i>090<i>.</i>0</div><div class="a r g v" style="left:797.96px;top:241px">14<i>.</i>98<span class="pc">%</span></div><div class="a r o v" style="left:797.96px;top:277px">3<i>,</i>177<i>.</i>0</div><div class="a r g v" style="left:797.96px;top:295px">9<i>.</i>21<span class="pc">%</span></div><div class="a r o v" style="left:797.96px;top:312px">7<i>.</i>43</div><div class="a r g v" style="left:797.96px;top:330px">9<i>.</i>26<span class="pc">%</span></div><div class="a r o v" style="left:797.96px;top:366px">3<i>,</i>177<i>.</i>0</div><div class="a r g v" style="left:797.96px;top:384px">8<i>.</i>50<span class="pc">%</span></div><div class="a r o v" style="left:797.96px;top:402px">7<i>.</i>43</div><div class="a r g v" style="left:797.96px;top:419px">8<i>.</i>56<span class="pc">%</span></div><div class="a r o v" style="left:797.96px;top:473px">12<i>,</i>275<i>.</i>0</div><div class="a r g v" style="left:797.96px;top:491px">7<i>.</i>68<span class="pc">%</span></div><div class="a r o v" style="left:797.96px;top:508px">51<i>,</i>707<i>.</i>0</div><div class="a r g v" style="left:797.96px;top:526px">8<i>.</i>96<span class="pc">%</span></div><div class="a r o v" style="left:797.96px;top:544px">118<i>.</i>64</div><div class="a r g v" style="left:797.96px;top:562px">6<i>.</i>92<span class="pc">%</span></div><div class="a r o v" style="left:797.96px;top:615px"><i>-</i>5<i>,</i>686<i>.</i>0</div><div class="a r g v" style="left:797.96px;top:633px"><i>-</i>183<i>.</i>31<span class="pc">%</span></div><div class="a r o v" style="left:797.96px;top:669px"><i>-</i>1<i>,</i>730<i>.</i>0</div><div class="a r g v" style="left:797.96px;top:687px"><i>-</i>180<i>.</i>20<span class="pc">%</span></div>
<div class="a tb w h1" style="left:905.53px;top:0.3px">2022 Q1</div><div class="a tb w h2" style="left:905.53px;top:17.3px">03<i>/</i>31<i>/</i>2022</div>
<div class="a r o v" style="left:905.03px;top:45px">45<i>,</i>447<i>.</i>0</div><div class="a r g v" style="left:905.03px;top:63px">10<i>.</i>40<span class="pc">%</span></div><div class="a r o v" style="left:905.03px;top:81px">20<i>.</i>91</div><div class="a r g v" style="left:905.03px;top:98px">65<i>.</i>40<span class="pc">%</span></div><div class="a r o v" style="left:905.03px;top:134px">3<i>,</i>533<i>.</i>0</div><div class="a r g v" style="left:905.03px;top:152px">25<i>.</i>64<span class="pc">%</span></div><div class="a r o v" style="left:905.03px;top:170px">4<i>,</i>933<i>.</i>0</div><div class="a r g v" style="left:905.03px;top:188px">14<i>.</i>48<span class="pc">%</span></div><div class="a r o v" style="left:905.03px;top:223px">3<i>,</i>436<i>.</i>0</div><div class="a r g v" style="left:905.03px;top:241px"><i>-</i>15<i>.</i>99<span class="pc">%</span></div><div class="a r o v" style="left:905.03px;top:277px">2<i>,</i>770<i>.</i>0</div><div class="a r g v" style="left:905.03px;top:295px"><i>-</i>12<i>.</i>81<span class="pc">%</span></div><div class="a r o v" style="left:905.03px;top:312px">6<i>.</i>48</div><div class="a r g v" style="left:905.03px;top:330px"><i>-</i>12<i>.</i>79<span class="pc">%</span></div><div class="a r o v" style="left:905.03px;top:366px">2<i>,</i>770<i>.</i>0</div><div class="a r g v" style="left:905.03px;top:384px"><i>-</i>12<i>.</i>81<span class="pc">%</span></div><div class="a r o v" style="left:905.03px;top:402px">6<i>.</i>48</div><div class="a r g v" style="left:905.03px;top:419px"><i>-</i>12<i>.</i>79<span class="pc">%</span></div><div class="a r o v" style="left:905.03px;top:473px">14<i>,</i>200<i>.</i>0</div><div class="a r g v" style="left:905.03px;top:491px">15<i>.</i>68<span class="pc">%</span></div><div class="a r o v" style="left:905.03px;top:508px">54<i>,</i>612<i>.</i>0</div><div class="a r g v" style="left:905.03px;top:526px">5<i>.</i>62<span class="pc">%</span></div><div class="a r o v" style="left:905.03px;top:544px">127<i>.</i>68</div><div class="a r g v" style="left:905.03px;top:562px">7<i>.</i>62<span class="pc">%</span></div><div class="a r o v" style="left:905.03px;top:615px"><i>-</i>3<i>,</i>456<i>.</i>0</div><div class="a r g v" style="left:905.03px;top:633px">39<i>.</i>22<span class="pc">%</span></div><div class="a r o v" style="left:905.03px;top:669px"><i>-</i>1<i>,</i>803<i>.</i>0</div><div class="a r g v" style="left:905.03px;top:687px"><i>-</i>4<i>.</i>22<span class="pc">%</span></div>
<div class="a tb w h1" style="left:1012.6px;top:0.3px">2022 Q2</div><div class="a tb w h2" style="left:1012.6px;top:17.3px">06<i>/</i>30<i>/</i>2022</div>
<div class="a r o v" style="left:1012.1px;top:45px">57<i>,</i>804<i>.</i>0</div><div class="a r g v" style="left:1012.1px;top:63px">27<i>.</i>19<span class="pc">%</span></div><div class="a r o v" style="left:1012.1px;top:81px">22<i>.</i>80</div><div class="a r g v" style="left:1012.1px;top:98px">9<i>.</i>06<span class="pc">%</span></div><div class="a r o v" style="left:1012.1px;top:134px">5<i>,</i>218<i>.</i>0</div><div class="a r g v" style="left:1012.1px;top:152px">47<i>.</i>69<span class="pc">%</span></div><div class="a r o v" style="left:1012.1px;top:170px">6<i>,</i>665<i>.</i>0</div><div class="a r g v" style="left:1012.1px;top:188px">35<i>.</i>11<span class="pc">%</span></div><div class="a r o v" style="left:1012.1px;top:223px">4<i>,</i>996<i>.</i>0</div><div class="a r g v" style="left:1012.1px;top:241px">45<i>.</i>40<span class="pc">%</span></div><div class="a r o v" style="left:1012.1px;top:277px">3<i>,</i>612<i>.</i>0</div><div class="a r g v" style="left:1012.1px;top:295px">30<i>.</i>40<span class="pc">%</span></div><div class="a r o v" style="left:1012.1px;top:312px">8<i>.</i>44</div><div class="a r g v" style="left:1012.1px;top:330px">30<i>.</i>25<span class="pc">%</span></div><div class="a r o v" style="left:1012.1px;top:366px">3<i>,</i>683<i>.</i>0</div><div class="a r g v" style="left:1012.1px;top:384px">32<i>.</i>96<span class="pc">%</span></div><div class="a r o v" style="left:1012.1px;top:402px">8<i>.</i>61</div><div class="a r g v" style="left:1012.1px;top:419px">32<i>.</i>89<span class="pc">%</span></div><div class="a r o v" style="left:1012.1px;top:473px">11<i>,</i>600<i>.</i>0</div><div class="a r g v" style="left:1012.1px;top:491px"><i>-</i>18<i>.</i>31<span class="pc">%</span></div><div class="a r o v" style="left:1012.1px;top:508px">57<i>,</i>088<i>.</i>0</div><div class="a r g v" style="left:1012.1px;top:526px">4<i>.</i>53<span class="pc">%</span></div><div class="a r o v" style="left:1012.1px;top:544px">133<i>.</i>47</div><div class="a r g v" style="left:1012.1px;top:562px">4<i>.</i>53<span class="pc">%</span></div><div class="a r o v" style="left:1012.1px;top:615px"><i>-</i>3<i>,</i>767<i>.</i>0</div><div class="a r g v" style="left:1012.1px;top:633px"><i>-</i>9<i>.</i>00<span class="pc">%</span></div><div class="a r o v" style="left:1012.1px;top:669px">5<i>,</i>152<i>.</i>0</div><div class="a r g v" style="left:1012.1px;top:687px">385<i>.</i>75<span class="pc">%</span></div>
<div class="a tb w h1" style="left:1119.67px;top:0.3px">2022 Q3</div><div class="a tb w h2" style="left:1119.67px;top:17.3px">09<i>/</i>30<i>/</i>2022</div>
<div class="a r o v" style="left:1119.17px;top:45px">72<i>,</i>996<i>.</i>0</div><div class="a r g v" style="left:1119.17px;top:63px">26<i>.</i>28<span class="pc">%</span></div><div class="a r o v" style="left:1119.17px;top:81px">17<i>.</i>33</div><div class="a r g v" style="left:1119.17px;top:98px"><i>-</i>24<i>.</i>01<span class="pc">%</span></div><div class="a r o v" style="left:1119.17px;top:134px">15<i>,</i>478<i>.</i>0</div><div class="a r g v" style="left:1119.17px;top:152px">196<i>.</i>63<span class="pc">%</span></div><div class="a r o v" style="left:1119.17px;top:170px">17<i>,</i>602<i>.</i>0</div><div class="a r g v" style="left:1119.17px;top:188px">164<i>.</i>10<span class="pc">%</span></div><div class="a r o v" style="left:1119.17px;top:223px">14<i>,</i>700<i>.</i>0</div><div class="a r g v" style="left:1119.17px;top:241px">194<i>.</i>24<span class="pc">%</span></div><div class="a r o v" style="left:1119.17px;top:277px">12<i>,</i>677<i>.</i>0</div><div class="a r g v" style="left:1119.17px;top:295px">250<i>.</i>97<span class="pc">%</span></div><div class="a r o v" style="left:1119.17px;top:312px">20<i>.</i>24</div><div class="a r g v" style="left:1119.17px;top:330px">139<i>.</i>81<span class="pc">%</span></div><div class="a r o v" style="left:1119.17px;top:366px">12<i>,</i>677<i>.</i>0</div><div class="a r g v" style="left:1119.17px;top:384px">244<i>.</i>20<span class="pc">%</span></div><div class="a r o v" style="left:1119.17px;top:402px">20<i>.</i>24</div><div class="a r g v" style="left:1119.17px;top:419px">135<i>.</i>05<span class="pc">%</span></div><div class="a r o v" style="left:1119.17px;top:473px">4<i>,</i>870<i>.</i>0</div><div class="a r g v" style="left:1119.17px;top:491px"><i>-</i>58<i>.</i>02<span class="pc">%</span></div><div class="a r o v" style="left:1119.17px;top:508px">85<i>,</i>966<i>.</i>0</div><div class="a r g v" style="left:1119.17px;top:526px">50<i>.</i>59<span class="pc">%</span></div><div class="a r o v" style="left:1119.17px;top:544px">137<i>.</i>23</div><div class="a r g v" style="left:1119.17px;top:562px">2<i>.</i>82<span class="pc">%</span></div><div class="a r o v" style="left:1119.17px;top:615px"><i>-</i>4<i>,</i>299<i>.</i>0</div><div class="a r g v" style="left:1119.17px;top:633px"><i>-</i>14<i>.</i>12<span class="pc">%</span></div><div class="a r o v" style="left:1119.17px;top:669px">4<i>,</i>670<i>.</i>0</div><div class="a r g v" style="left:1119.17px;top:687px"><i>-</i>9<i>.</i>36<span class="pc">%</span></div>
<div class="a tb w h1" style="left:1226.74px;top:0.3px">2022 Q4</div><div class="a tb w h2" style="left:1226.74px;top:17.3px">12<i>/</i>31<i>/</i>2022</div>
<div class="a r o v" style="left:1226.24px;top:45px">102<i>,</i>262<i>.</i>0</div><div class="a r g v" style="left:1226.24px;top:63px">40<i>.</i>09<span class="pc">%</span></div><div class="a r o v" style="left:1226.24px;top:81px">16<i>.</i>35</div><div class="a r g v" style="left:1226.24px;top:98px"><i>-</i>5<i>.</i>65<span class="pc">%</span></div><div class="a r o v" style="left:1226.24px;top:134px">19<i>,</i>431<i>.</i>0</div><div class="a r g v" style="left:1226.24px;top:152px">25<i>.</i>54<span class="pc">%</span></div><div class="a r o v" style="left:1226.24px;top:170px">24<i>,</i>256<i>.</i>0</div><div class="a r g v" style="left:1226.24px;top:188px">37<i>.</i>80<span class="pc">%</span></div><div class="a r o v" style="left:1226.24px;top:223px">19<i>,</i>950<i>.</i>0</div><div class="a r g v" style="left:1226.24px;top:241px">35<i>.</i>71<span class="pc">%</span></div><div class="a r o v" style="left:1226.24px;top:277px">16<i>,</i>371<i>.</i>0</div><div class="a r g v" style="left:1226.24px;top:295px">29<i>.</i>14<span class="pc">%</span></div><div class="a r o v" style="left:1226.24px;top:312px">14<i>.</i>10</div><div class="a r g v" style="left:1226.24px;top:330px"><i>-</i>30<i>.</i>34<span class="pc">%</span></div><div class="a r o v" style="left:1226.24px;top:366px">10<i>,</i>557<i>.</i>6</div><div class="a r g v" style="left:1226.24px;top:384px"><i>-</i>16<i>.</i>72<span class="pc">%</span></div><div class="a r o v" style="left:1226.24px;top:402px">9<i>.</i>09</div><div class="a r g v" style="left:1226.24px;top:419px"><i>-</i>55<i>.</i>07<span class="pc">%</span></div><div class="a r o v" style="left:1226.24px;top:473px"><i>-</i>2<i>,</i>258<i>.</i>0</div><div class="a r g v" style="left:1226.24px;top:491px"><i>-</i>146<i>.</i>37<span class="pc">%</span></div><div class="a r o v" style="left:1226.24px;top:508px">135<i>,</i>948<i>.</i>0</div><div class="a r g v" style="left:1226.24px;top:526px">58<i>.</i>14<span class="pc">%</span></div><div class="a r o v" style="left:1226.24px;top:544px">118<i>.</i>75</div><div class="a r g v" style="left:1226.24px;top:562px"><i>-</i>13<i>.</i>47<span class="pc">%</span></div><div class="a r o v" style="left:1226.24px;top:615px"><i>-</i>12<i>,</i>986<i>.</i>0</div><div class="a r g v" style="left:1226.24px;top:633px"><i>-</i>202<i>.</i>07<span class="pc">%</span></div><div class="a r o v" style="left:1226.24px;top:669px">2<i>,</i>303<i>.</i>0</div><div class="a r g v" style="left:1226.24px;top:687px"><i>-</i>50<i>.</i>69<span class="pc">%</span></div>
<div class="a tb w h1" style="left:1333.81px;top:0.3px">2023 Q1</div><div class="a tb w h2" style="left:1333.81px;top:17.3px">03<i>/</i>31<i>/</i>2023</div>
<div class="a r o v" style="left:1333.31px;top:45px">110<i>,</i>270<i>.</i>0</div><div class="a r g v" style="left:1333.31px;top:63px">7<i>.</i>83<span class="pc">%</span></div><div class="a r o v" style="left:1333.31px;top:81px">15<i>.</i>77</div><div class="a r g v" style="left:1333.31px;top:98px"><i>-</i>3<i>.</i>52<span class="pc">%</span></div><div class="a r o v" style="left:1333.31px;top:134px">14<i>,</i>275<i>.</i>0</div><div class="a r g v" style="left:1333.31px;top:152px"><i>-</i>26<i>.</i>53<span class="pc">%</span></div><div class="a r o v" style="left:1333.31px;top:170px">17<i>,</i>153<i>.</i>0</div><div class="a r g v" style="left:1333.31px;top:188px"><i>-</i>29<i>.</i>28<span class="pc">%</span></div><div class="a r o v" style="left:1333.31px;top:223px">13<i>,</i>345<i>.</i>0</div><div class="a r g v" style="left:1333.31px;top:241px"><i>-</i>33<i>.</i>11<span class="pc">%</span></div><div class="a r o v" style="left:1333.31px;top:277px">9<i>,</i>006<i>.</i>0</div><div class="a r g v" style="left:1333.31px;top:295px"><i>-</i>44<i>.</i>99<span class="pc">%</span></div><div class="a r o v" style="left:1333.31px;top:312px">7<i>.</i>76</div><div class="a r g v" style="left:1333.31px;top:330px"><i>-</i>44<i>.</i>96<span class="pc">%</span></div><div class="a r o v" style="left:1333.31px;top:366px">9<i>,</i>006<i>.</i>0</div><div class="a r g v" style="left:1333.31px;top:384px"><i>-</i>14<i>.</i>70<span class="pc">%</span></div><div class="a r o v" style="left:1333.31px;top:402px">7<i>.</i>76</div><div class="a r g v" style="left:1333.31px;top:419px"><i>-</i>14<i>.</i>66<span class="pc">%</span></div><div class="a r o v" style="left:1333.31px;top:473px"><i>-</i>11<i>,</i>500<i>.</i>0</div><div class="a r g v" style="left:1333.31px;top:491px"><i>-</i>409<i>.</i>30<span class="pc">%</span></div>
<div class="a tb w h1" style="left:1440.88px;top:0.3px">2023 Q2 Est</div><div class="a tb w h2" style="left:1440.88px;top:17.3px">06<i>/</i>30<i>/</i>2023</div>
<div class="a r w v" style="left:1413.38px;top:45px">69<i>,</i>616<i>.</i>0</div><div class="a r g" style="left:1525.68px;top:45px;transform:scaleX(0.886)">1</div><div class="a r g v" style="left:1413.38px;top:63px"><i>-</i>36<i>.</i>87<span class="pc">%</span></div><div class="a r w v" style="left:1413.38px;top:134px">6<i>,</i>666<i>.</i>0</div><div class="a r g" style="left:1525.68px;top:134px;transform:scaleX(0.886)">1</div><div class="a r g v" style="left:1413.38px;top:152px"><i>-</i>53<i>.</i>30<span class="pc">%</span></div><div class="a r w v" style="left:1413.38px;top:170px">9<i>,</i>940<i>.</i>0</div><div class="a r g" style="left:1525.68px;top:170px;transform:scaleX(0.886)">1</div><div class="a r g v" style="left:1413.38px;top:188px"><i>-</i>42<i>.</i>05<span class="pc">%</span></div><div class="a r w v" style="left:1413.38px;top:223px">6<i>,</i>488<i>.</i>0</div><div class="a r g" style="left:1525.68px;top:223px;transform:scaleX(0.886)">1</div><div class="a r g v" style="left:1413.38px;top:241px"><i>-</i>51<i>.</i>38<span class="pc">%</span></div><div class="a r w v" style="left:1413.38px;top:277px"><i>-</i>6<i>,</i>026<i>.</i>0</div><div class="a r g" style="left:1525.68px;top:277px;transform:scaleX(0.886)">1</div><div class="a r g v" style="left:1413.38px;top:295px"><i>-</i>166<i>.</i>91<span class="pc">%</span></div><div class="a r w v" style="left:1413.38px;top:312px"><i>-</i>5<i>.</i>19</div><div class="a r g" style="left:1525.68px;top:312px;transform:scaleX(0.886)">1</div><div class="a r g v" style="left:1413.38px;top:330px"><i>-</i>166<i>.</i>88<span class="pc">%</span></div><div class="a r w v" style="left:1413.38px;top:366px">5<i>,</i>157<i>.</i>0</div><div class="a r g" style="left:1525.68px;top:366px;transform:scaleX(0.886)">1</div><div class="a r g v" style="left:1413.38px;top:384px"><i>-</i>42<i>.</i>74<span class="pc">%</span></div><div class="a r w v" style="left:1413.38px;top:402px">4<i>.</i>44</div><div class="a r g" style="left:1525.68px;top:402px;transform:scaleX(0.886)">1</div><div class="a r g v" style="left:1413.38px;top:419px"><i>-</i>42<i>.</i>78<span class="pc">%</span></div><div class="a r w v" style="left:1413.38px;top:473px"><i>-</i>4<i>,</i>688<i>.</i>0</div><div class="a r g" style="left:1525.68px;top:473px;transform:scaleX(0.886)">1</div><div class="a r g v" style="left:1413.38px;top:491px">59<i>.</i>23<span class="pc">%</span></div><div class="a r w v" style="left:1413.38px;top:508px">143<i>,</i>524<i>.</i>0</div><div class="a r g" style="left:1525.68px;top:508px;transform:scaleX(0.886)">1</div><div class="a r w v" style="left:1413.38px;top:544px">123<i>.</i>62</div><div class="a r g" style="left:1525.68px;top:544px;transform:scaleX(0.886)">1</div><div class="a r w v" style="left:1413.38px;top:615px"><i>-</i>9<i>,</i>038<i>.</i>0</div><div class="a r g" style="left:1525.68px;top:615px;transform:scaleX(0.886)">1</div>
<div class="a tb w h1" style="left:1546.75px;top:0.3px">2023 Q3 Est</div><div class="a tb w h2" style="left:1546.75px;top:17.3px">09<i>/</i>30<i>/</i>2023</div>
<div class="a r w v" style="left:1519.25px;top:45px">69<i>,</i>753<i>.</i>0</div><div class="a r g" style="left:1631.55px;top:45px;transform:scaleX(0.886)">1</div><div class="a r g v" style="left:1519.25px;top:63px">0<i>.</i>20<span class="pc">%</span></div><div class="a r w v" style="left:1519.25px;top:134px">6<i>,</i>600<i>.</i>0</div><div class="a r g" style="left:1631.55px;top:134px;transform:scaleX(0.886)">1</div><div class="a r g v" style="left:1519.25px;top:152px"><i>-</i>0<i>.</i>99<span class="pc">%</span></div><div class="a r w v" style="left:1519.25px;top:170px">9<i>,</i>910<i>.</i>0</div><div class="a r g" style="left:1631.55px;top:170px;transform:scaleX(0.886)">1</div><div class="a r g v" style="left:1519.25px;top:188px"><i>-</i>0<i>.</i>30<span class="pc">%</span></div><div class="a r w v" style="left:1519.25px;top:223px">6<i>,</i>373<i>.</i>0</div><div class="a r g" style="left:1631.55px;top:223px;transform:scaleX(0.886)">1</div><div class="a r g v" style="left:1519.25px;top:241px"><i>-</i>1<i>.</i>77<span class="pc">%</span></div><div class="a r w v" style="left:1519.25px;top:277px">4<i>,</i>914<i>.</i>0</div><div class="a r g" style="left:1631.55px;top:277px;transform:scaleX(0.886)">1</div><div class="a r g v" style="left:1519.25px;top:295px">181<i>.</i>55<span class="pc">%</span></div><div class="a r w v" style="left:1519.25px;top:312px">4<i>.</i>23</div><div class="a r g" style="left:1631.55px;top:312px;transform:scaleX(0.886)">1</div><div class="a r g v" style="left:1519.25px;top:330px">181<i>.</i>50<span class="pc">%</span></div><div class="a r w v" style="left:1519.25px;top:366px">4<i>,</i>914<i>.</i>0</div><div class="a r g" style="left:1631.55px;top:366px;transform:scaleX(0.886)">1</div><div class="a r g v" style="left:1519.25px;top:384px"><i>-</i>4<i>.</i>71<span class="pc">%</span></div><div class="a r w v" style="left:1519.25px;top:402px">4<i>.</i>23</div><div class="a r g" style="left:1631.55px;top:402px;transform:scaleX(0.886)">1</div><div class="a r g v" style="left:1519.25px;top:419px"><i>-</i>4<i>.</i>73<span class="pc">%</span></div><div class="a r w v" style="left:1519.25px;top:473px">4<i>,</i>668<i>.</i>0</div><div class="a r g" style="left:1631.55px;top:473px;transform:scaleX(0.886)">1</div><div class="a r g v" style="left:1519.25px;top:491px">199<i>.</i>57<span class="pc">%</span></div><div class="a r w v" style="left:1519.25px;top:508px">142<i>,</i>052<i>.</i>0</div><div class="a r g" style="left:1631.55px;top:508px;transform:scaleX(0.886)">1</div><div class="a r g v" style="left:1519.25px;top:526px"><i>-</i>1<i>.</i>03<span class="pc">%</span></div><div class="a r w v" style="left:1519.25px;top:544px">122<i>.</i>35</div><div class="a r g" style="left:1631.55px;top:544px;transform:scaleX(0.886)">1</div><div class="a r g v" style="left:1519.25px;top:562px"><i>-</i>1<i>.</i>03<span class="pc">%</span></div><div class="a r w v" style="left:1519.25px;top:615px"><i>-</i>9<i>,</i>038<i>.</i>0</div><div class="a r g" style="left:1631.55px;top:615px;transform:scaleX(0.886)">1</div><div class="a r g v" style="left:1519.25px;top:633px">0<i>.</i>00<span class="pc">%</span></div>
<div class="a vl" style="left:42px;top:0;height:706px"></div><div class="a vl" style="left:149px;top:0;height:706px"></div><div class="a vl" style="left:256px;top:0;height:706px"></div><div class="a vl" style="left:363px;top:0;height:706px"></div><div class="a vl" style="left:470px;top:0;height:706px"></div><div class="a vl" style="left:578px;top:0;height:706px"></div><div class="a vl" style="left:685px;top:0;height:706px"></div><div class="a vl" style="left:792px;top:0;height:706px"></div><div class="a vl" style="left:899px;top:0;height:706px"></div><div class="a vl" style="left:1006px;top:0;height:706px"></div><div class="a vl" style="left:1113px;top:0;height:706px"></div><div class="a vl" style="left:1220px;top:0;height:706px"></div><div class="a vl" style="left:1327px;top:0;height:706px"></div><div class="a vl" style="left:1434px;top:0;height:706px"></div><div class="a vl" style="left:1541px;top:0;height:706px"></div><div class="a vl" style="left:1647px;top:0;height:706px"></div>
</div>
<div class="a vl" style="left:256px;top:80px;height:706px"></div>
<div class="a" style="left:1905px;top:80px;width:10px;height:715px;background:#242424;border-right:1px solid #3a3a3a"></div>
<div class="a" style="left:1905px;top:98px;width:9px;height:1px;background:#1a1a1a"></div><div class="a" style="left:1904px;top:107px;width:11px;height:659px;background:#646464"></div>
<div class="a" style="left:1906px;top:87.5px;width:0;height:0;border-left:3.2px solid transparent;border-right:3.2px solid transparent;border-bottom:4.5px solid #f4f4f4"></div>
<div class="a" style="left:1906px;top:774px;width:0;height:0;border-left:3.2px solid transparent;border-right:3.2px solid transparent;border-top:4.5px solid #f4f4f4"></div>
<div class="a" style="left:2px;top:786px;width:1903px;height:8px;background:#262626"></div>
<div class="a" style="left:2px;top:794px;width:1913px;height:1px;background:#3a3a3a"></div>
<div class="a" style="left:862px;top:786px;width:1024px;height:9.5px;background:#646464"></div><div class="a" style="left:1886px;top:786px;width:1px;height:9px;background:#000"></div>
<div class="a" style="left:1905px;top:786px;width:9px;height:8px;background:#1c1c1c"></div>
<div class="a" style="left:7.6px;top:786.3px;width:0;height:0;border-top:3.3px solid transparent;border-bottom:3.3px solid transparent;border-right:5px solid #f4f4f4"></div>
<div class="a" style="left:1893.5px;top:786.3px;width:0;height:0;border-top:3.3px solid transparent;border-bottom:3.3px solid transparent;border-left:5px solid #f4f4f4"></div>
<div class="a" style="left:2px;top:796.3px;width:38px;height:4px;background:#3e3e3e"></div><div class="a" style="left:52px;top:796.3px;width:38px;height:4px;background:#3e3e3e"></div><div class="a" style="left:102px;top:796.3px;width:38px;height:4px;background:#3e3e3e"></div><div class="a" style="left:152px;top:796.3px;width:38px;height:4px;background:#3e3e3e"></div>
</body></html>
